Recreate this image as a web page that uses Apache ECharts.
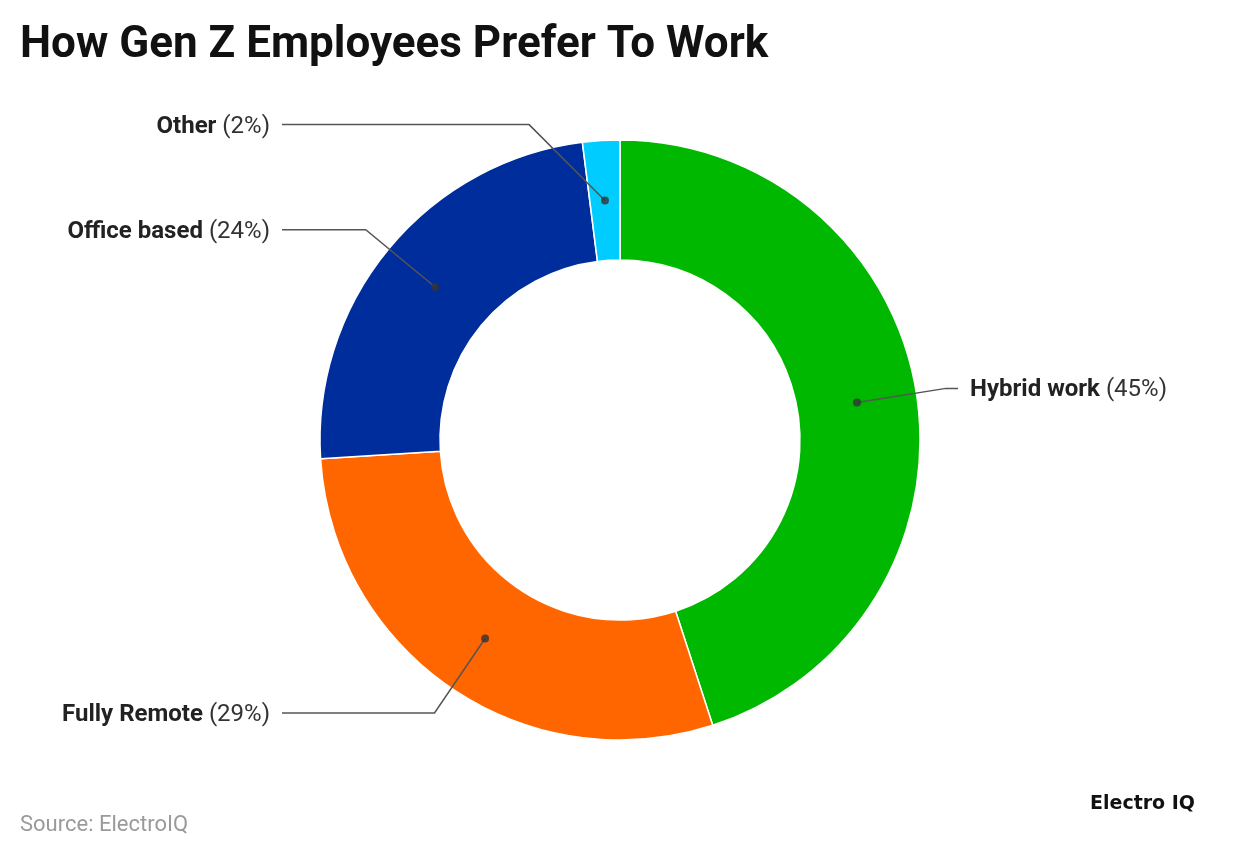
<!DOCTYPE html>
<html>
<head>
<meta charset="utf-8">
<style>
  html, body { margin: 0; padding: 0; background: #ffffff; }
  #chart { width: 1240px; height: 856px; }
</style>
<script src="https://cdn.jsdelivr.net/npm/echarts@6/dist/echarts.min.js"></script>
</head>
<body>
<div id="chart"></div>
<script>
// ---- data ----
const categories = ['Hybrid work', 'Fully Remote', 'Office based', 'Other'];
const values = [45, 29, 24, 2];
const titleText = 'How Gen Z Employees Prefer To Work';
const sourceText = 'Source: ElectroIQ';
const brandText = 'Electro IQ';

// ---- styles / layout ----
const colors = ['#00B800', '#FF6600', '#002D9C', '#00CCFF'];
const W = 1240;
const center = [620, 440];
const innerR = 180, outerR = 300;
const midR = (innerR + outerR) / 2;
const EDGE = 50, BOXW = 220, GAP = 12;

const total = values.reduce((a, b) => a + b, 0);
const mids = [];
let acc = 0;
values.forEach(v => { mids.push(acc + v / 2); acc += v; });

const labelData = categories.map((name, i) => {
  const isRight = mids[i] < total / 2;
  const align = isRight ? 'left' : 'right';
  const item = {
    name: name,
    value: values[i],
    label: {
      rich: {
        a: { fontFamily: 'Roboto', fontWeight: 'bold', fontSize: 24, color: '#222222', align: align, padding: [4, 0, 0, 0] },
        b: { fontFamily: 'Roboto', fontWeight: 'normal', fontSize: 24, color: '#333333', align: align, padding: [4, 0, 0, 0] }
      }
    }
  };
  if (values[i] / total < 0.05) {
    item.labelLine = { length: 76, minTurnAngle: 135 };
  }
  return item;
});

const chart = echarts.init(document.getElementById('chart'), null, { renderer: 'canvas' });
chart.setOption({
  backgroundColor: '#ffffff',
  animation: false,
  title: [
    {
      text: titleText, left: 20, top: 24, padding: 0,
      textStyle: { fontFamily: 'Roboto', fontWeight: 'bold', fontSize: 44, color: '#111111' }
    },
    {
      text: sourceText, left: 20, top: 814, padding: 0,
      textStyle: { fontFamily: 'Roboto', fontWeight: 'normal', fontSize: 22, color: '#9a9a9a' }
    },
    {
      text: brandText, right: 45, top: 795, padding: 0,
      textStyle: { fontFamily: 'DejaVu Sans', fontWeight: 'bold', fontSize: 19, color: '#111111' }
    }
  ],
  polar: { center: center, radius: outerR },
  angleAxis: { type: 'value', min: 0, max: total, startAngle: 90, clockwise: true, show: false },
  radiusAxis: { type: 'value', min: 0, max: outerR, show: false },
  series: [
    {
      type: 'pie',
      center: center,
      radius: [innerR, outerR],
      startAngle: 90,
      clockwise: true,
      silent: true,
      label: { show: false },
      labelLine: { show: false },
      itemStyle: { borderColor: '#ffffff', borderWidth: 1.5 },
      color: colors,
      data: categories.map((name, i) => ({ name: name, value: values[i] })),
      z: 1
    },
    {
      type: 'pie',
      center: center,
      radius: [0, midR],
      startAngle: 90,
      clockwise: true,
      silent: true,
      itemStyle: { color: 'transparent' },
      label: {
        show: true,
        position: 'outside',
        alignTo: 'edge',
        edgeDistance: EDGE,
        width: BOXW,
        distanceToLabelLine: GAP,
        formatter: p => '{a|' + p.name + ' }{b|(' + p.value + '%)}'
      },
      labelLine: {
        show: true,
        length: 90,
        length2: 10,
        lineStyle: { color: '#555555', width: 1.5 }
      },
      labelLayout: function (params) {
        const pts = params.labelLinePoints;
        if (!pts || pts.length < 3) return {};
        const isLeft = pts[0][0] < center[0];
        const endX = isLeft ? EDGE + BOXW + GAP : W - EDGE - BOXW - GAP;
        return {
          labelLinePoints: [pts[0].slice(), pts[1].slice(), [endX, pts[2][1]]]
        };
      },
      data: labelData,
      z: 2
    },
    {
      type: 'scatter',
      coordinateSystem: 'polar',
      silent: true,
      symbol: 'circle',
      symbolSize: 8,
      itemStyle: { color: '#333333' },
      data: mids.map(m => [midR, m]),
      z: 3
    }
  ]
});
</script>
</body>
</html>
